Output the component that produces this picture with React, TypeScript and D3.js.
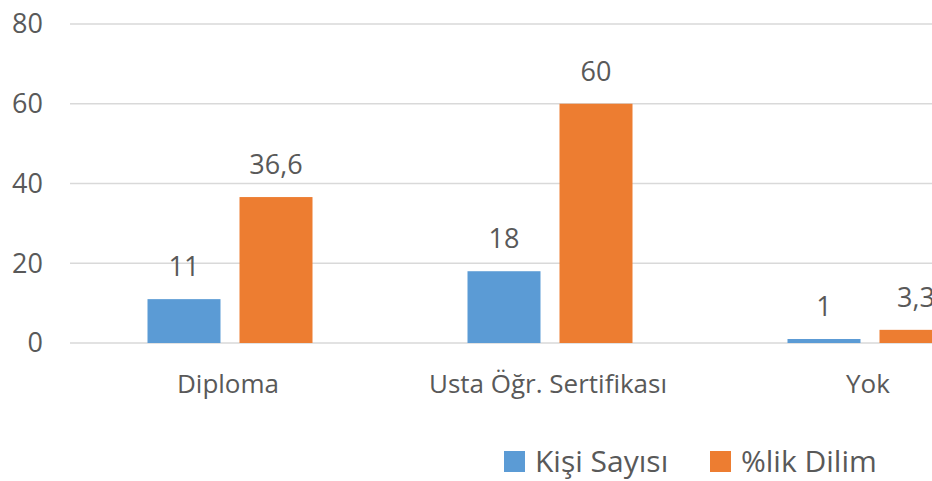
import { useMemo } from "react";
import * as d3 from "d3";

const categories = ["Diploma", "Usta Öğr. Sertifikası", "Yok"];
const seriesNames = ["Kişi Sayısı", "%lik Dilim"];
const kisiSayisi = [11, 18, 1];
const likDilim = [36.6, 60, 3.3];
const yTicks = [0, 20, 40, 60, 80];

const width = 932;
const height = 481;
const margin = { top: 24, left: 70, right: -98, bottom: 138 };
const colors = ["#5b9bd5", "#ed7d31"];
const textColor = "#595959";
const font = "'Open Sans', sans-serif";

const fmt = (v: number) => String(v).replace(".", ",");

export default function App() {
  const x = useMemo(
    () => d3.scaleBand<string>().domain(categories).range([margin.left, width - margin.right]),
    []
  );
  const y = useMemo(
    () => d3.scaleLinear().domain([0, 80]).range([height - margin.bottom, margin.top]),
    []
  );
  // two bars per group, 73px wide with a 19px gap
  const inner = useMemo(
    () => d3.scaleBand<number>().domain([0, 1]).range([0, 165]).paddingInner(19 / 92),
    []
  );
  const series = [kisiSayisi, likDilim];

  return (
    <div style={{ position: "fixed", left: 0, top: 0 }}>
      <svg width={width} height={height} style={{ display: "block", background: "#fff" }} fontFamily={font}>
        {yTicks.map((t) => (
          <g key={t}>
            <line x1={margin.left} x2={width} y1={y(t)} y2={y(t)} stroke="#d9d9d9" strokeWidth={1.5} />
            <text x={43} y={y(t)} dy="0.35em" textAnchor="end" fontSize={27} fill={textColor}>
              {t}
            </text>
          </g>
        ))}
        {categories.map((c, ci) => {
          const gx = x(c)! + (x.bandwidth() - 165) / 2;
          return (
            <g key={c}>
              {series.map((vals, si) => {
                const bx = gx + inner(si)!;
                const v = vals[ci];
                return (
                  <g key={si}>
                    <rect x={bx} y={y(v)} width={inner.bandwidth()} height={y(0) - y(v)} fill={colors[si]} />
                    <text
                      x={bx + inner.bandwidth() / 2}
                      y={y(v) - 23}
                      textAnchor="middle"
                      fontSize={27}
                      fill={textColor}
                    >
                      {fmt(v)}
                    </text>
                  </g>
                );
              })}
              <text x={x(c)! + x.bandwidth() / 2 - 2} y={393} textAnchor="middle" fontSize={26} fill={textColor}>
                {c}
              </text>
            </g>
          );
        })}
        {seriesNames.map((s, i) => {
          const lx = [504, 710][i];
          return (
            <g key={s}>
              <rect x={lx} y={451} width={21} height={21} fill={colors[i]} />
              <text x={lx + 31} y={472} fontSize={30} fill={textColor}>
                {s}
              </text>
            </g>
          );
        })}
      </svg>
    </div>
  );
}
